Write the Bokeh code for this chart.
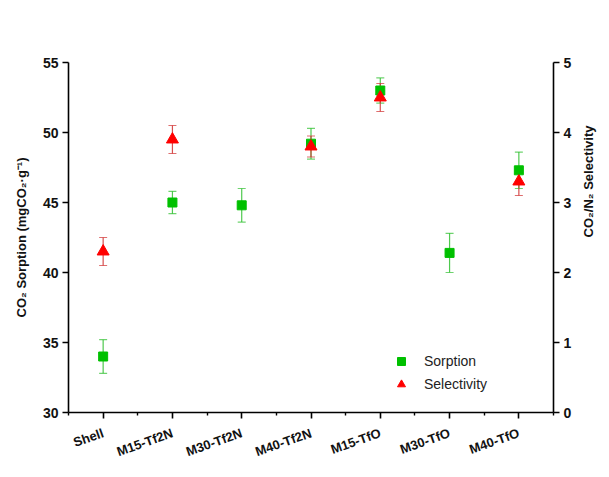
import math
from bokeh.plotting import figure
from bokeh.models import (Range1d, LinearAxis, FixedTicker, Whisker, ColumnDataSource,
                          Legend, LegendItem, TeeHead)
from bokeh.embed import file_html
from bokeh.resources import INLINE

categories = ["Shell", "M15-Tf2N", "M30-Tf2N", "M40-Tf2N", "M15-TfO", "M30-TfO", "M40-TfO"]
sorption = [34.0, 45.0, 44.8, 49.2, 53.0, 41.4, 47.3]
sorption_err = [1.2, 0.8, 1.2, 1.1, 0.9, 1.4, 1.3]
sel_categories = ["Shell", "M15-Tf2N", "M40-Tf2N", "M15-TfO", "M40-TfO"]
selectivity = [2.3, 3.9, 3.8, 4.5, 3.3]
selectivity_err = [0.2, 0.2, 0.15, 0.2, 0.2]
left_ticks = [30, 35, 40, 45, 50, 55]
right_ticks = [0, 1, 2, 3, 4, 5]

FONT = "Liberation Sans"
GREEN = "#00C000"
RED = "#FF0000"

xpos = {c: i + 1 for i, c in enumerate(categories)}
src_s = ColumnDataSource(dict(
    x=[xpos[c] for c in categories], y=sorption,
    lo=[v - e for v, e in zip(sorption, sorption_err)],
    hi=[v + e for v, e in zip(sorption, sorption_err)]))
src_r = ColumnDataSource(dict(
    x=[xpos[c] for c in sel_categories], y=selectivity,
    lo=[v - e for v, e in zip(selectivity, selectivity_err)],
    hi=[v + e for v, e in zip(selectivity, selectivity_err)]))

p = figure(width=608, height=476, output_backend="svg", toolbar_location=None,
           x_range=Range1d(0.5, len(categories) + 0.5),
           y_range=Range1d(left_ticks[0], left_ticks[-1]),
           min_border_left=68, min_border_right=55, min_border_top=62, min_border_bottom=64,
           x_axis_label=None, y_axis_label="CO\u2082 Sorption (mgCO\u2082\u00b7g\u207b\u00b9)")
p.extra_y_ranges = {"sel": Range1d(right_ticks[0], right_ticks[-1])}
p.outline_line_color = None
p.grid.visible = False
p.background_fill_color = "white"
p.border_fill_color = "white"

ax = LinearAxis(y_range_name="sel", axis_label="CO\u2082/N\u2082 Selectivity")
p.add_layout(ax, "right")
ax.axis_label_orientation = math.pi / 2

# x axis
xa = p.xaxis[0]
xa.ticker = FixedTicker(ticks=list(xpos.values()),
                        minor_ticks=[v - 0.5 for v in xpos.values()] + [len(categories) + 0.5])
xa.major_label_overrides = {v: c for c, v in xpos.items()}
xa.major_label_orientation = 0.34

ya = p.yaxis[0]
ya.ticker = FixedTicker(ticks=left_ticks)
ax.ticker = FixedTicker(ticks=right_ticks)

for a in [xa, ya, ax]:
    a.axis_line_width = 1.6
    a.axis_line_color = "black"
    a.major_tick_line_color = "black"
    a.major_tick_line_width = 1.6
    a.major_tick_out = 6
    a.major_tick_in = 0
    a.minor_tick_in = 0
    a.minor_tick_out = 3
    a.minor_tick_line_width = 1.4
    a.minor_tick_line_color = "black"
    a.major_label_text_font = FONT
    a.major_label_text_font_style = "bold"
    a.major_label_text_font_size = "14px"
    a.major_label_text_color = "#111111"
    a.axis_label_text_font = FONT
    a.axis_label_text_font_style = "bold"
    a.axis_label_text_font_size = "13px"
    a.axis_label_text_color = "#111111"
for a in [ya, ax]:
    a.minor_tick_line_color = None
xa.major_label_text_font_size = "13px"
xa.major_label_standoff = 14
ya.axis_label_standoff = 11
ax.axis_label_standoff = 14
ya.major_label_standoff = 4
ax.major_label_standoff = 4

wg = Whisker(base="x", upper="hi", lower="lo", source=src_s, line_color="#30C030",
             line_alpha=0.85, line_width=1.2,
             upper_head=TeeHead(size=8, line_color="#30C030", line_alpha=0.7, line_width=1.2),
             lower_head=TeeHead(size=8, line_color="#30C030", line_alpha=0.7, line_width=1.2))
wr = Whisker(base="x", upper="hi", lower="lo", source=src_r, y_range_name="sel",
             line_color="#D03030", line_alpha=0.85, line_width=1.2,
             upper_head=TeeHead(size=8, line_color="#D03030", line_alpha=0.7, line_width=1.2),
             lower_head=TeeHead(size=8, line_color="#D03030", line_alpha=0.7, line_width=1.2))
p.add_layout(wg)
p.add_layout(wr)

sq = p.scatter("x", "y", source=src_s, marker="square", size=9, fill_color=GREEN,
               line_color=GREEN)
tri = p.scatter("x", "y", source=src_r, y_range_name="sel", marker="triangle", size=12,
                fill_color=RED, line_color=RED)

legend = Legend(items=[LegendItem(label="Sorption", renderers=[sq]),
                       LegendItem(label="Selectivity", renderers=[tri])],
                location=(323, 18), padding=5, spacing=3, label_standoff=13,
                glyph_width=20, glyph_height=20,
                label_text_font=FONT, label_text_font_size="14px", label_text_color="#222222",
                border_line_color=None, background_fill_alpha=0)
p.add_layout(legend)

open("out.html", "w").write(file_html(p, INLINE))
